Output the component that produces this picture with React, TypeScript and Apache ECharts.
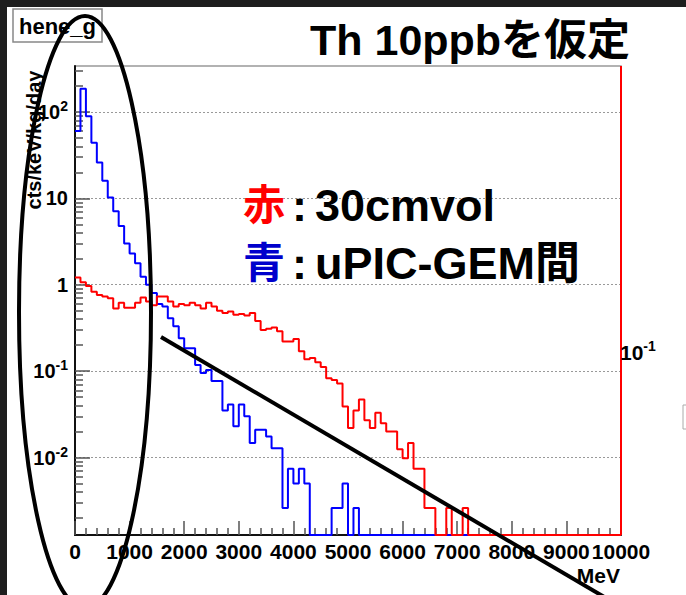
import React, { useEffect, useRef } from "react";
import * as echarts from "echarts";

// ---- data (counts per 100 MeV bin, cts/keV/kg/day) ----
const BIN_WIDTH = 100; // MeV
const blueCounts = [
  60, 185, 89, 44, 26, 16, 10.2, 7.1, 4.8, 3.0,
  2.3, 1.77, 1.24, 1.0, 0.8, 0.6, 0.56, 0.41, 0.33, 0.24,
  0.184, 0.184, 0.118, 0.095, 0.103, 0.077, 0.077, 0.035, 0.041, 0.023,
  0.041, 0.03, 0.0147, 0.021, 0.021, 0.0175, 0.0128, 0.0128, 0.0026, 0.0074,
  0.005, 0.0074, 0.005, 0, 0, 0, 0, 0.0026, 0.0026, 0.005,
  0, 0.0026, 0, 0, 0, 0, 0, 0, 0, 0,
  0, 0, 0, 0, 0, 0, 0, 0, 0, 0,
  0, 0, 0, 0, 0, 0, 0, 0, 0, 0,
  0, 0, 0, 0, 0, 0, 0, 0, 0, 0,
  0, 0, 0, 0, 0, 0, 0, 0, 0, 0,
];
const redCounts = [
  1.21, 1.07, 0.97, 0.83, 0.76, 0.73, 0.7, 0.53, 0.62, 0.54,
  0.54, 0.62, 0.71, 0.64, 0.58, 0.73, 0.73, 0.64, 0.56, 0.6,
  0.58, 0.62, 0.58, 0.53, 0.62, 0.56, 0.5, 0.47, 0.49, 0.45,
  0.46, 0.44, 0.47, 0.38, 0.3, 0.31, 0.32, 0.29, 0.22, 0.22,
  0.235, 0.17, 0.137, 0.142, 0.127, 0.112, 0.083, 0.079, 0.072, 0.039,
  0.022, 0.035, 0.047, 0.027, 0.022, 0.033, 0.025, 0.02, 0.02, 0.0125,
  0.0098, 0.0147, 0.0074, 0.0074, 0.0026, 0.0026, 0, 0, 0.0026, 0,
  0, 0.0026, 0, 0, 0, 0, 0, 0, 0, 0,
  0, 0, 0, 0, 0, 0, 0, 0, 0, 0,
  0, 0, 0, 0, 0, 0, 0, 0, 0, 0,
];

// ---- axes ----
const X_MIN = 0;
const X_MAX = 10000;
const X_INTERVAL = 1000;
const xTickValues = [0, 1000, 2000, 3000, 4000, 5000, 6000, 7000, 8000, 9000, 10000];
const Y_MIN = 0.00127;
const Y_MAX = 340;
const yMajorTicks = [0.01, 0.1, 1, 10, 100];
const yTickBase = ["10", "10", "1", "10", "10"];
const yTickExp = ["-2", "-1", "", "", "2"];

// ---- texts ----
const histTitle = "hene_g";
const mainTitle = "Th 10ppbを仮定";
const yTitle = "cts/keV/kg/day";
const xTitle = "MeV";
const legendRows = [
  { key: "赤", label: "30cmvol", color: "#ff0000" },
  { key: "青", label: "uPIC-GEM間", color: "#0000cc" },
];

const FONT = "'Liberation Sans', Arial, 'Noto Sans CJK JP', sans-serif";

function toSteps(counts: number[]) {
  const pts = counts.map((v, i) => [i * BIN_WIDTH, v > 0 ? v : Y_MIN]);
  const last = counts[counts.length - 1];
  pts.push([counts.length * BIN_WIDTH, last > 0 ? last : Y_MIN]);
  return pts;
}

function yMinorTicks() {
  const out: number[] = [];
  for (let d = -3; d <= 2; d++) {
    for (let k = 2; k <= 9; k++) {
      const v = k * Math.pow(10, d);
      if (v > Y_MIN && v < Y_MAX) out.push(v);
    }
  }
  return out;
}

export default function App() {
  const ref = useRef<HTMLDivElement>(null);
  useEffect(() => {
    if (!ref.current) return;
    const chart = echarts.init(ref.current, undefined, { renderer: "svg" });
    const tickColor = "#555";
    const option: any = {
      animation: false,
      backgroundColor: "#ffffff",
      grid: {
        left: 75,
        top: 66,
        right: 65,
        bottom: 60,
        show: true,
        borderColor: "#999",
        borderWidth: 1.5,
        containLabel: false,
        outerBoundsMode: "none",
      },
      xAxis: {
        type: "value",
        min: X_MIN,
        max: X_MAX,
        interval: X_INTERVAL,
        axisLine: { show: true, lineStyle: { color: "#111", width: 2 } },
        axisTick: { inside: true, length: 14, lineStyle: { color: tickColor, width: 1.5 } },
        minorTick: { show: true, splitNumber: 5, length: 7, lineStyle: { color: tickColor, width: 1.5 } },
        splitLine: { show: false },
        axisLabel: {
          customValues: xTickValues,
          formatter: (v: number) => String(Math.round(v)),
          fontFamily: FONT,
          fontWeight: "bold",
          fontSize: 21,
          color: "#000",
          margin: 6,
          showMinLabel: true,
          showMaxLabel: true,
          hideOverlap: false,
        },
      },
      yAxis: [
        {
          type: "log",
          logBase: 10,
          min: Y_MIN,
          max: Y_MAX,
          position: "left",
          axisLine: { show: true, lineStyle: { color: "#111", width: 2 } },
          axisTick: { show: true, inside: true, length: 15, customValues: yMajorTicks, lineStyle: { color: tickColor, width: 1.5 } },
          minorTick: { show: false },
          splitLine: { show: true, lineStyle: { color: "#999", width: 1, type: [2, 2] } },
          axisLabel: {
            customValues: yMajorTicks,
            margin: 7,
            formatter: (v: number) => {
              const i = yMajorTicks.findIndex((t) => Math.abs(Math.log10(t) - Math.log10(v)) < 1e-6);
              if (i < 0) return "";
              return yTickExp[i] ? `{b|${yTickBase[i]}}{s|${yTickExp[i]}}` : `{b|${yTickBase[i]}}`;
            },
            rich: {
              b: { fontFamily: FONT, fontWeight: "bold", fontSize: 20, color: "#000" },
              s: { fontFamily: FONT, fontWeight: "bold", fontSize: 14, color: "#000", padding: [0, 0, 12, 0] },
            },
          },
        },
        {
          type: "log",
          logBase: 10,
          min: Y_MIN,
          max: Y_MAX,
          position: "left",
          axisLine: { show: false },
          axisTick: { show: true, inside: true, length: 8, customValues: yMinorTicks(), lineStyle: { color: tickColor, width: 1.5 } },
          axisLabel: { show: false },
          splitLine: { show: false },
        },
      ],
      series: [
        {
          name: "uPIC-GEM",
          type: "line",
          step: "end",
          yAxisIndex: 0,
          data: toSteps(blueCounts),
          symbol: "none",
          clip: false,
          lineStyle: { color: "#0000ff", width: 2 },
          z: 3,
        },
        {
          name: "30cmvol",
          type: "line",
          step: "end",
          yAxisIndex: 0,
          data: toSteps(redCounts),
          symbol: "none",
          clip: false,
          lineStyle: { color: "#ff0000", width: 2 },
          z: 4,
          markLine: {
            silent: true,
            symbol: ["none", "none"],
            label: { show: false },
            lineStyle: { color: "#ff0000", width: 2, type: "solid" },
            data: [{ xAxis: X_MAX }],
          },
        },
      ],
      graphic: [
        { type: "rect", z: 200, shape: { x: 0, y: 0, width: 686, height: 7 }, style: { fill: "#1e1e1e" } },
        { type: "rect", z: 200, shape: { x: 0, y: 0, width: 7, height: 595 }, style: { fill: "#1e1e1e" } },
        { type: "rect", z: 50, shape: { x: 13, y: 9, width: 89, height: 33 }, style: { fill: "#fff", stroke: "#888", lineWidth: 1.5 } },
        {
          type: "text", z: 51, x: 57.5, y: 26,
          style: { text: histTitle, fontFamily: FONT, fontWeight: "bold", fontSize: 22, fill: "#000", align: "center", verticalAlign: "middle", textAlign: "center", textVerticalAlign: "middle" },
        },
        {
          type: "text", z: 51, x: 310, y: 40,
          style: { text: mainTitle, fontFamily: FONT, fontWeight: "bold", fontSize: 43, fill: "#000", align: "left", verticalAlign: "middle", textAlign: "left", textVerticalAlign: "middle" },
        },
        ...legendRows.flatMap((r, i) => {
          const cy = 205 + i * 58;
          return [
            { type: "text", z: 51, x: 243, y: cy, style: { text: r.key, fontFamily: FONT, fontWeight: "bold", fontSize: 42, fill: r.color, align: "left", verticalAlign: "middle", textAlign: "left", textVerticalAlign: "middle" } },
            { type: "text", z: 51, x: 292, y: cy, style: { text: ":", fontFamily: FONT, fontWeight: "bold", fontSize: 45, fill: "#000", align: "left", verticalAlign: "middle", textAlign: "left", textVerticalAlign: "middle" } },
            { type: "text", z: 51, x: 315, y: cy, style: { text: r.label, fontFamily: FONT, fontWeight: "bold", fontSize: 45, fill: "#000", align: "left", verticalAlign: "middle", textAlign: "left", textVerticalAlign: "middle" } },
          ];
        }),
        {
          type: "text", z: 51, x: 620, y: 352,
          style: {
            text: "{b|10}{s|-1}", fontFamily: FONT, align: "left", verticalAlign: "middle", textAlign: "left", textVerticalAlign: "middle",
            rich: {
              b: { fontFamily: FONT, fontWeight: "bold", fontSize: 21, fill: "#000" },
              s: { fontFamily: FONT, fontWeight: "bold", fontSize: 14, fill: "#000", padding: [0, 0, 12, 0] },
            },
          },
        },
        {
          type: "text", z: 51, x: 620, y: 575,
          style: { text: xTitle, fontFamily: FONT, fontWeight: "bold", fontSize: 21, fill: "#000", align: "right", verticalAlign: "middle", textAlign: "right", textVerticalAlign: "middle" },
        },
        {
          type: "text", z: 51, x: 34, y: 140, rotation: Math.PI / 2,
          style: { text: yTitle, fontFamily: FONT, fontWeight: "bold", fontSize: 20, fill: "#000", align: "center", verticalAlign: "middle", textAlign: "center", textVerticalAlign: "middle" },
        },
        { type: "rect", z: 51, shape: { x: 683, y: 405, width: 8, height: 24 }, style: { fill: "#fff", stroke: "#aaa", lineWidth: 1 } },
        { type: "ellipse", z: 100, shape: { cx: 85, cy: 312, rx: 66, ry: 296 }, style: { fill: "none", stroke: "#000", lineWidth: 4 } },
        { type: "line", z: 100, shape: { x1: 161, y1: 337, x2: 606, y2: 598 }, style: { stroke: "#000", lineWidth: 4 } },
      ],
    };
    chart.setOption(option);
    return () => chart.dispose();
  }, []);
  return (
    <div
      ref={ref}
      style={{ position: "fixed", left: 0, top: 0, width: 686, height: 595, background: "#fff" }}
    />
  );
}
